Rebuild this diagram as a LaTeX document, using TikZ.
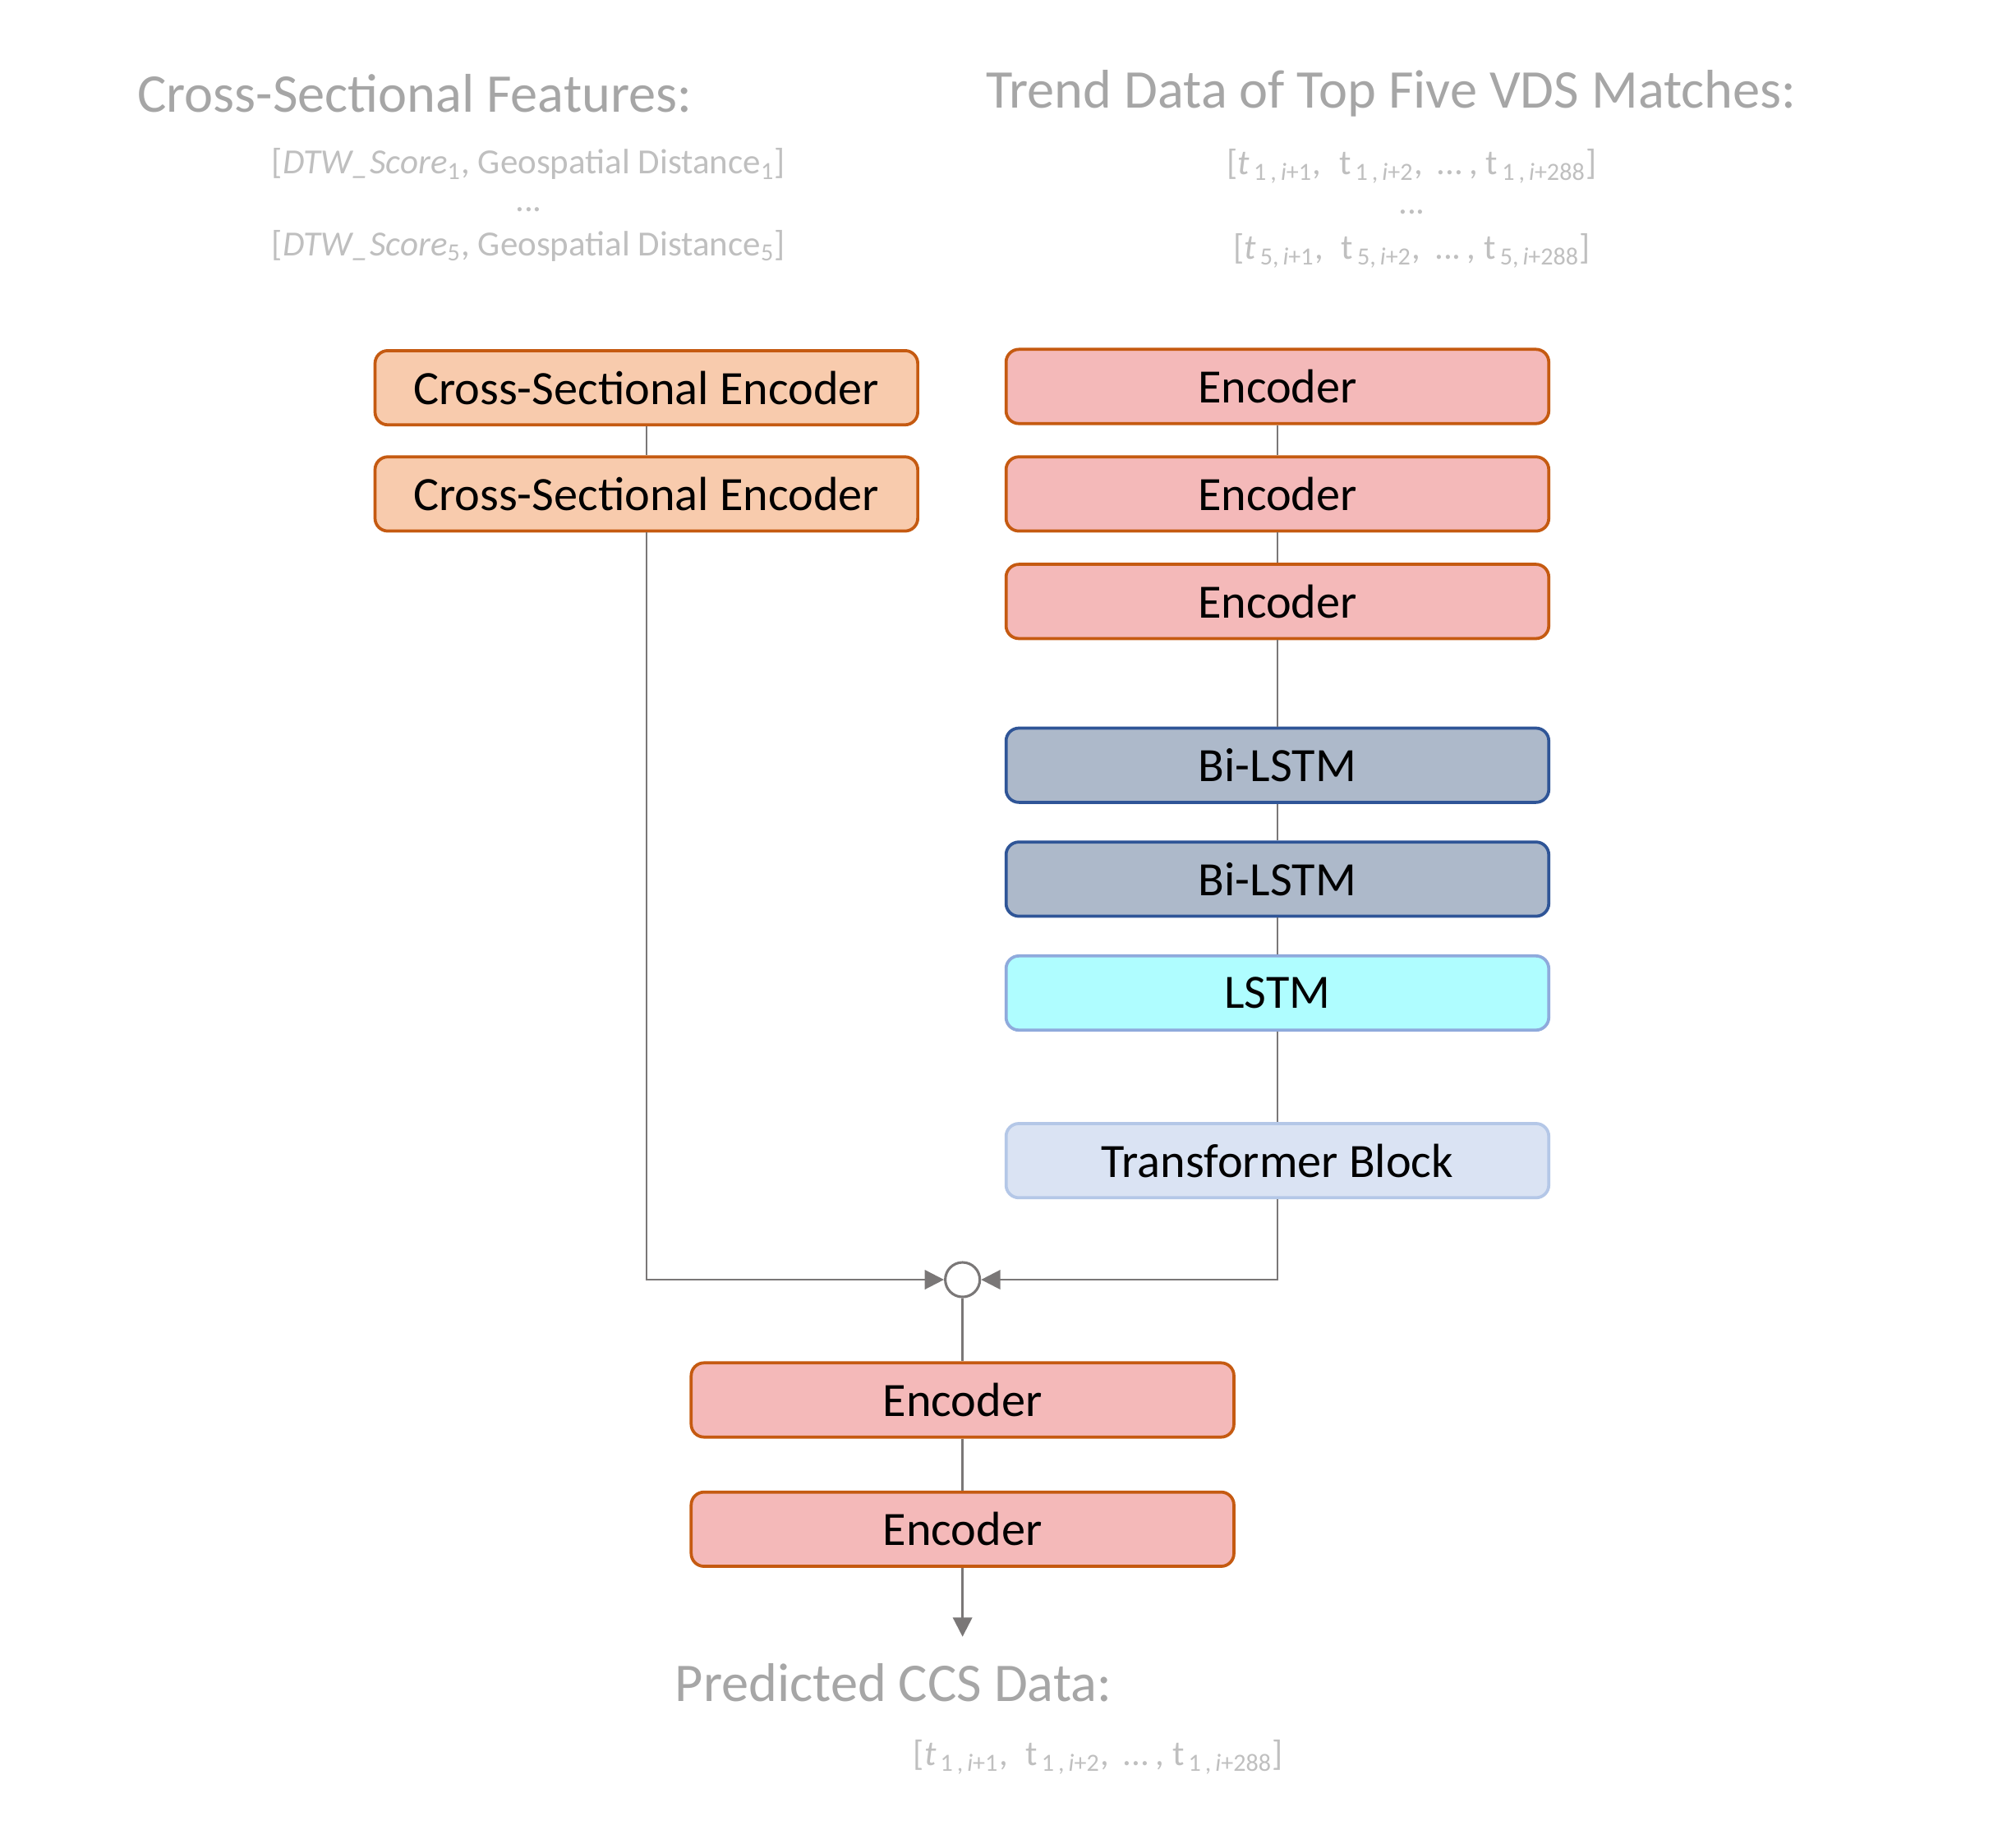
\documentclass[tikz,border=0pt]{standalone}
\usepackage{fontspec}
\setmainfont{Carlito}
\usetikzlibrary{arrows.meta}
\definecolor{csfill}{HTML}{F8CBAD}
\definecolor{orbord}{HTML}{C55A11}
\definecolor{encfill}{HTML}{F4B9B9}
\definecolor{bifill}{HTML}{ADB9CA}
\definecolor{bibord}{HTML}{2F5597}
\definecolor{lsfill}{HTML}{AFFDFF}
\definecolor{lsbord}{HTML}{8FAADC}
\definecolor{tbfill}{HTML}{DAE3F3}
\definecolor{tbbord}{HTML}{B4C7E7}
\definecolor{lnc}{HTML}{7A7777}
\definecolor{ttlc}{HTML}{A6A6A6}
\definecolor{subc}{HTML}{BFBFBF}
\newcommand{\tsub}[1]{\textsubscript{\,#1}}
\newcommand{\lsub}[1]{\textsubscript{#1}}
\tikzset{
  blk/.style={draw, rounded corners=5pt, line width=1.2pt, minimum width=212pt, minimum height=29pt, inner sep=0pt, font=\fontsize{18.7}{22}\selectfont, text=black},
  csbox/.style={blk, fill=csfill, draw=orbord},
  encbox/.style={blk, fill=encfill, draw=orbord},
  bibox/.style={blk, fill=bifill, draw=bibord},
  lsbox/.style={blk, fill=lsfill, draw=lsbord},
  tbbox/.style={blk, fill=tbfill, draw=tbbord},
  ttl/.style={anchor=west, inner sep=0pt, text=ttlc, font=\fontsize{21.3}{25}\selectfont},
  sub/.style={inner sep=0pt, text=subc, font=\fontsize{13.8}{16}\selectfont},
  dots/.style={sub, text height=2pt, text depth=0pt},
  conn/.style={draw=lnc, line width=0.8pt},
  arr/.style={conn, -{Triangle[length=7.5pt,width=7.5pt]}, color=lnc},
  joinc/.style={circle, draw=lnc, line width=1pt, fill=white, minimum size=13.5pt, inner sep=0pt}
}
\begin{document}
\begin{tikzpicture}[x=0.5pt, y=-0.5pt]
\useasboundingbox (0,0) rectangle (1568,1443.5);
% titles
\node[ttl] (t1) at (107,73) {Cross-Sectional Features:};
\node[sub] (s1a) at (413,128) {[\textit{DTW\_Score}\lsub{1}, Geospatial Distance\lsub{1}]};
\node[dots] (s1b) at (413,163) {...};
\node[sub] (s1c) at (413,192) {[\textit{DTW\_Score}\lsub{5}, Geospatial Distance\lsub{5}]};
\node[ttl] (t2) at (770,73) {Trend Data of Top Five VDS Matches:};
\node[sub] (s2a) at (1103,130) {[\textit{t}\tsub{1\,,\,\textit{i}+1},\; t\tsub{1\,,\,\textit{i}+2}, \,...\,, t\tsub{1\,,\,\textit{i}+288}]};
\node[dots] (s2b) at (1103,165) {...};
\node[sub] (s2c) at (1103,196) {[\textit{t}\tsub{5,\,\textit{i}+1},\; t\tsub{5,\,\textit{i}+2}, \,...\,, t\tsub{5,\,\textit{i}+288}]};
\node[ttl] (t3) at (527,1315) {Predicted CCS Data:};
\node[sub] (s3) at (858,1373) {[\textit{t}\tsub{1\,,\,\textit{i}+1},\; t\tsub{1\,,\,\textit{i}+2}, \,...\,, t\tsub{1\,,\,\textit{i}+288}]};
% left column
\node[csbox] (cs1) at (505,303) {Cross-Sectional Encoder};
\node[csbox] (cs2) at (505,386) {Cross-Sectional Encoder};
% right column
\node[encbox] (e1) at (998,302) {Encoder};
\node[encbox] (e2) at (998,386) {Encoder};
\node[encbox] (e3) at (998,470) {Encoder};
\node[bibox] (b1) at (998,598) {Bi-LSTM};
\node[bibox] (b2) at (998,687) {Bi-LSTM};
\node[lsbox] (ls) at (998,776) {LSTM};
\node[tbbox] (tb) at (998,907) {Transformer Block};
% join
\node[joinc] (j) at (752,1000) {};
% bottom
\node[encbox] (d1) at (752,1094) {Encoder};
\node[encbox] (d2) at (752,1195) {Encoder};
\coordinate (out) at (752,1279);
% connectors
\draw[conn] (cs1) -- (cs2);
\draw[conn] (e1) -- (e2);
\draw[conn] (e2) -- (e3);
\draw[conn] (e3) -- (b1);
\draw[conn] (b1) -- (b2);
\draw[conn] (b2) -- (ls);
\draw[conn] (ls) -- (tb);
\draw[arr] (cs2.south) |- (j.west);
\draw[arr] (tb.south) |- (j.east);
\draw[conn] (j) -- (d1);
\draw[conn] (d1) -- (d2);
\draw[arr] (d2.south) -- (out);
\end{tikzpicture}
\end{document}
